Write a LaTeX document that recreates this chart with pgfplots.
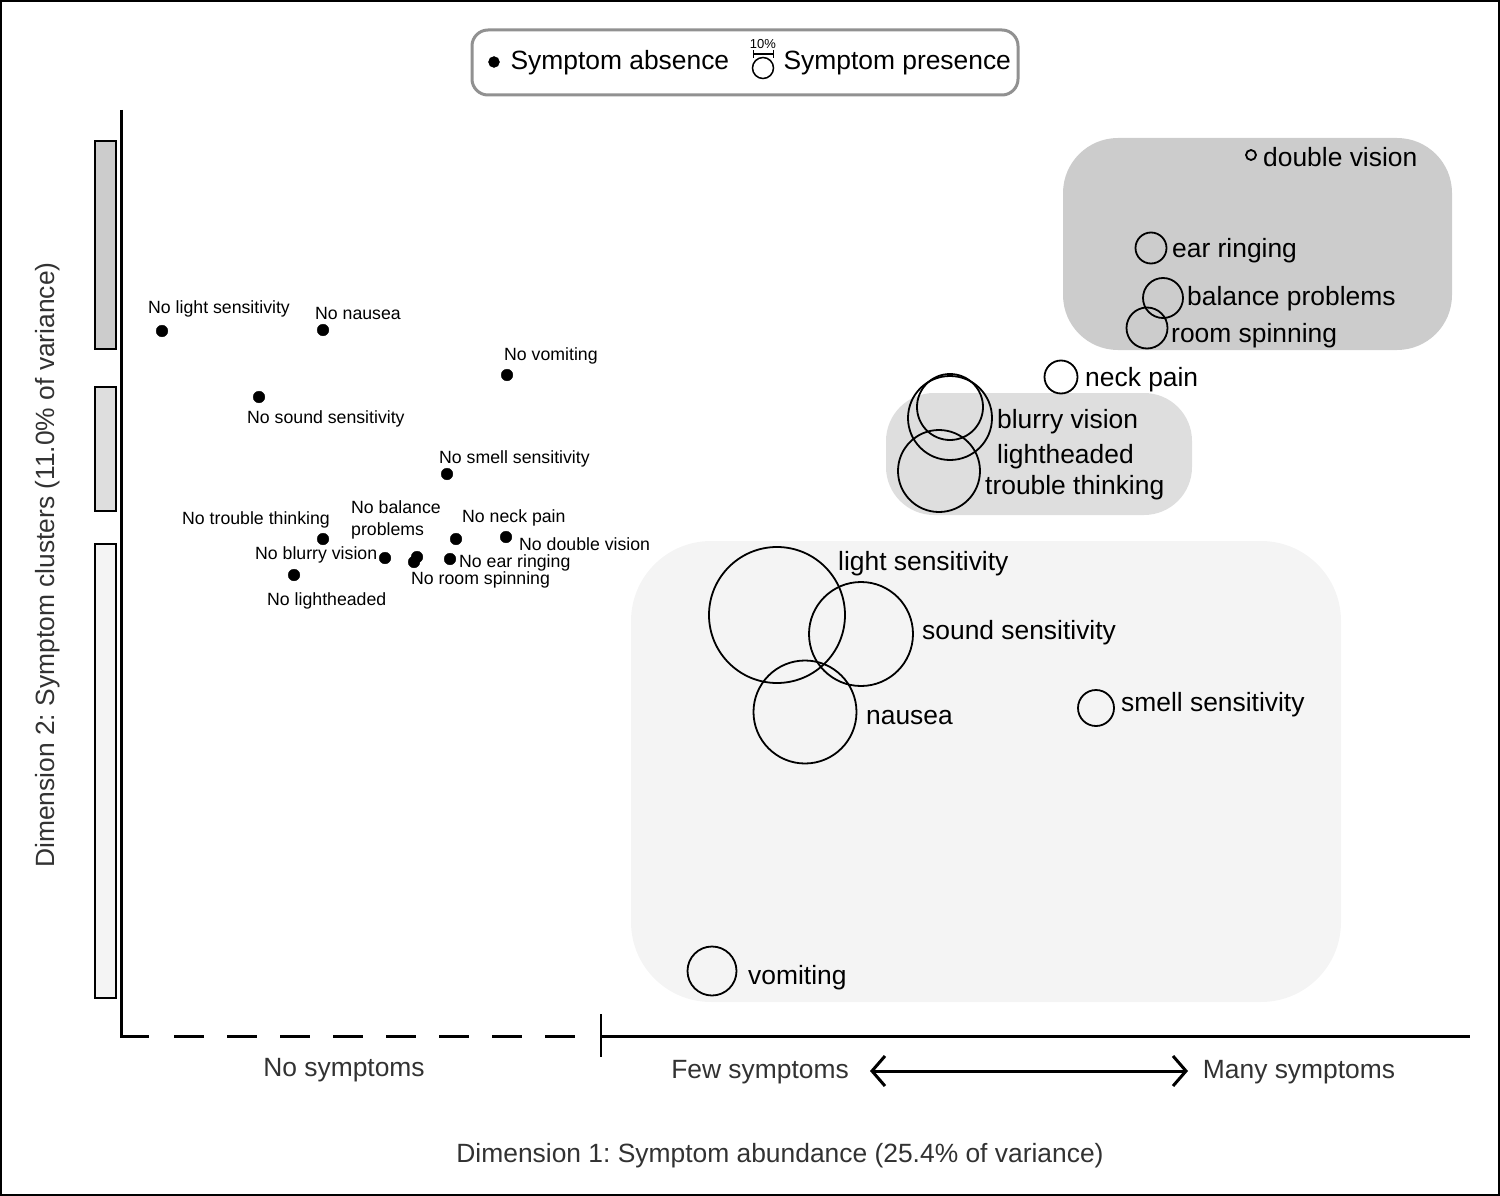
\documentclass[border=0pt]{standalone}
\usepackage{fontspec}
\setmainfont{Liberation Sans}
\usepackage{pgfplots}
\usepackage{pgfplotstable}
\pgfplotsset{compat=1.18}
\usetikzlibrary{arrows.meta}
\definecolor{cA}{RGB}{204,204,204}
\definecolor{cB}{RGB}{222,222,222}
\definecolor{cC}{RGB}{244,244,244}
\definecolor{lgd}{RGB}{145,145,145}
\definecolor{txt}{RGB}{50,50,50}
\newcommand{\bigf}{\fontsize{26.4}{30}\selectfont}
\newcommand{\smf}{\fontsize{17.7}{21}\selectfont}
\newcommand{\tinyf}{\fontsize{13}{15}\selectfont}
\frenchspacing
\pgfplotstableread{
x y
162 331
323 330
507 375
259 397
447 474
323 539
417 557
414 562
385 558
294 575
456 539
506 537
450 559
}\absent
\pgfplotstableread{
x y r
1251 155 5
1151 248 15.5
1163 298 20
1147 328 20.5
1061 377 16.5
950 407 33
950 418 42
939 471 41
777 615 68
861 634 52
805 712 51.5
1096 708 18
712 971 24.5
}\present
\begin{document}
\frenchspacing
\begin{tikzpicture}
\begin{axis}[x=1pt,y=1pt,xmin=0,xmax=1500,ymin=0,ymax=1196,y dir=reverse,
  hide axis,clip=false,scale only axis]
% outer frame
\addplot[black,line width=2pt] coordinates {(1,1)(1499,1)(1499,1195)(1,1195)} -- cycle;
% side bars
\addplot[fill=cA,draw=black,line width=1.2pt] coordinates {(95,141)(116,141)(116,349)(95,349)} -- cycle;
\addplot[fill=cB,draw=black,line width=1.2pt] coordinates {(95,387)(116,387)(116,511)(95,511)} -- cycle;
\addplot[fill=cC,draw=black,line width=1.2pt] coordinates {(95,544)(116,544)(116,998)(95,998)} -- cycle;
% cluster backgrounds
\addplot[fill=cA,draw=none,rounded corners=55pt] coordinates {(1257,138)(1452,138)(1452,350)(1063,350)(1063,138)} -- cycle;
\addplot[fill=cB,draw=none,rounded corners=48pt] coordinates {(1040,393)(1192,393)(1192,515)(886,515)(886,393)} -- cycle;
\addplot[fill=cC,draw=none,rounded corners=80pt] coordinates {(986,541)(1341,541)(1341,1002)(631,1002)(631,541)} -- cycle;
% legend box
\addplot[fill=white,draw=lgd,line width=3pt,rounded corners=16pt] coordinates {(745,30)(1018,30)(1018,95)(472,95)(472,30)} -- cycle;
\addplot[only marks,mark=*,mark size=5.5pt,black] coordinates {(494,62)};
\addplot[only marks,mark=o,mark size=10.5pt,black,line width=1.5pt] coordinates {(763,68)};
\addplot[black,line width=1.3pt,{Bar[width=8pt]}-{Bar[width=8pt]}] coordinates {(753,54)(774,54)};
\node[anchor=base,font=\tinyf] at (axis cs:763,49) {10\%};
\node[anchor=base west,font=\bigf] at (axis cs:507,70) {Symptom absence};
\node[anchor=base west,font=\bigf] at (axis cs:780,70) {Symptom presence};
% axes
\addplot[black,line width=3pt] coordinates {(121,110)(121,1036)(149,1036)};
\addplot[black,line width=3pt,dash pattern=on 30pt off 23pt] coordinates {(174,1036)(575,1036)};
\addplot[black,line width=3pt] coordinates {(601,1036)(1470,1036)};
\addplot[black,line width=2.5pt] coordinates {(601,1014)(601,1057)};
\addplot[black,line width=3pt,{Straight Barb[length=13pt,width=30pt]}-{Straight Barb[length=13pt,width=30pt]}] coordinates {(870,1071)(1188,1071)};
% absence dots
\addplot[only marks,mark=*,mark size=5.8pt,black] table {\absent};
% presence circles
\addplot[scatter,only marks,mark=o,line width=1.8pt,
  scatter/use mapped color={draw=black},
  visualization depends on={\thisrow{r}\as\rr},
  scatter/@pre marker code/.append style={/tikz/mark size=\rr}] table {\present};
% small labels
\begin{scope}[every node/.style={anchor=base west,font=\smf,inner sep=0pt}]
\node at (axis cs:148,313) {No light sensitivity};
\node at (axis cs:315,319) {No nausea};
\node at (axis cs:504,360) {No vomiting};
\node at (axis cs:247,423) {No sound sensitivity};
\node at (axis cs:439,463) {No smell sensitivity};
\node at (axis cs:182,524) {No trouble thinking};
\node at (axis cs:351,513) {No balance};
\node at (axis cs:351,535) {problems};
\node at (axis cs:255,559) {No blurry vision};
\node at (axis cs:267,605) {No lightheaded};
\node at (axis cs:462,522) {No neck pain};
\node at (axis cs:519,550) {No double vision};
\node at (axis cs:459,567) {No ear ringing};
\node at (axis cs:411,584) {No room spinning};
\end{scope}
% big labels
\begin{scope}[every node/.style={anchor=base west,font=\bigf,inner sep=0pt}]
\node at (axis cs:1263,167) {double vision};
\node at (axis cs:1172,257) {ear ringing};
\node at (axis cs:1187,305) {balance problems};
\node at (axis cs:1171,342) {room spinning};
\node at (axis cs:1085,386) {neck pain};
\node at (axis cs:997,428) {blurry vision};
\node at (axis cs:997,463) {lightheaded};
\node at (axis cs:985,494) {trouble thinking};
\node at (axis cs:838,570) {light sensitivity};
\node at (axis cs:922,639) {sound sensitivity};
\node at (axis cs:866,724) {nausea};
\node at (axis cs:1121,711) {smell sensitivity};
\node at (axis cs:748,984) {vomiting};
\end{scope}
% axis texts
\begin{scope}[every node/.style={font=\bigf,text=txt,inner sep=0pt}]
\node[anchor=base] at (axis cs:344,1076) {No symptoms};
\node[anchor=base] at (axis cs:760,1078) {Few symptoms};
\node[anchor=base] at (axis cs:1299,1078) {Many symptoms};
\node[anchor=base] at (axis cs:780,1162) {Dimension 1: Symptom abundance (25.4\% of variance)};
\node[anchor=base,rotate=90] at (axis cs:54,565) {Dimension 2: Symptom clusters (11.0\% of variance)};
\end{scope}
\end{axis}
\end{tikzpicture}
\end{document}
